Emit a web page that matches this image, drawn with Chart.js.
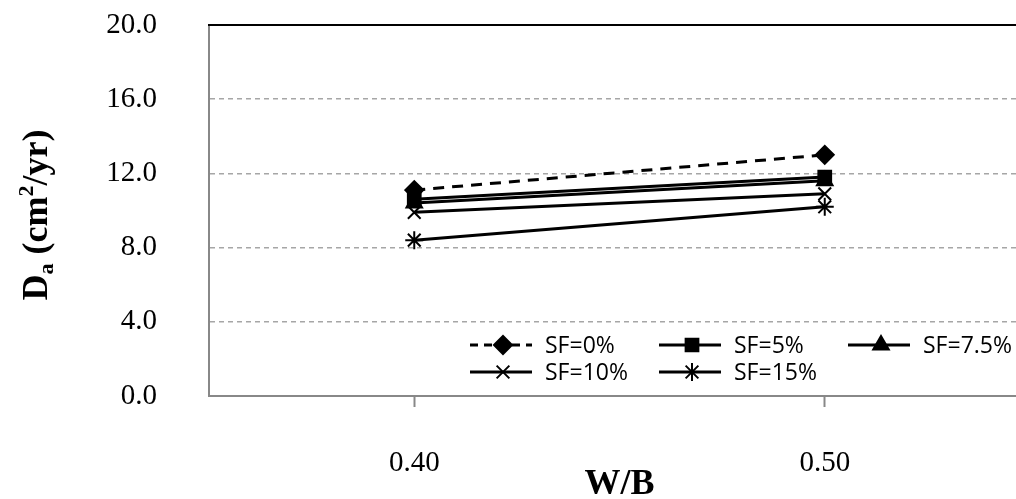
<!DOCTYPE html>
<html>
<head>
<meta charset="utf-8">
<script src="https://cdn.jsdelivr.net/npm/chart.js@4.4.0/dist/chart.umd.min.js"></script>
<style>
  body { margin: 0; overflow: hidden; background: #fff; }
</style>
</head>
<body>
<canvas id="chart" width="1030" height="499"></canvas>
<script>
// 데이터
const categories = ['0.40', '0.50'];
const seriesNames = ['SF=0%', 'SF=5%', 'SF=7.5%', 'SF=10%', 'SF=15%'];
const sf0 = [11.1, 13.0];
const sf5 = [10.6, 11.8];
const sf75 = [10.4, 11.6];
const sf10 = [9.9, 10.9];
const sf15 = [8.4, 10.2];
const yTicks = [0, 4, 8, 12, 16, 20];

const seriesValues = [sf0, sf5, sf75, sf10, sf15];
const markers = ['rectRot', 'rect', 'triangle', 'crossRot', 'star'];

const datasets = seriesNames.map((name, i) => ({
  label: name,
  data: seriesValues[i],
  borderColor: '#000',
  borderWidth: 3,
  borderDash: i === 0 ? [11, 8] : [],
  pointStyle: markers[i],
  pointRadius: 9,
  pointBorderWidth: 2,
  pointBackgroundColor: '#000',
  pointBorderColor: '#000',
  tension: 0
}));

// 위쪽 테두리
const topBorder = {
  id: 'topBorder',
  afterDraw(chart) {
    const { ctx, chartArea } = chart;
    ctx.save();
    ctx.strokeStyle = '#000';
    ctx.lineWidth = 2;
    ctx.beginPath();
    ctx.moveTo(chartArea.left - 1, chartArea.top);
    ctx.lineTo(chartArea.right, chartArea.top);
    ctx.stroke();
    ctx.restore();
  }
};

// y축 제목 (아래첨자/위첨자)
const yTitle = {
  id: 'yTitle',
  afterDraw(chart) {
    const ctx = chart.ctx;
    const parts = [
      { t: 'D', size: 36, dy: 0 },
      { t: 'a', size: 22, dy: 6 },
      { t: ' (cm', size: 36, dy: 0 },
      { t: '2', size: 22, dy: -14 },
      { t: '/yr)', size: 36, dy: 0 }
    ];
    ctx.save();
    let total = 0;
    parts.forEach(p => {
      ctx.font = 'bold ' + p.size + 'px "Liberation Serif"';
      p.w = ctx.measureText(p.t).width;
      total += p.w;
    });
    ctx.translate(47, 215);
    ctx.rotate(-Math.PI / 2);
    ctx.fillStyle = '#000';
    ctx.textBaseline = 'alphabetic';
    let x = -total / 2;
    parts.forEach(p => {
      ctx.font = 'bold ' + p.size + 'px "Liberation Serif"';
      ctx.fillText(p.t, x, p.dy);
      x += p.w;
    });
    ctx.restore();
  }
};

// 범례
const sfLegend = {
  id: 'sfLegend',
  afterDraw(chart) {
    const ctx = chart.ctx;
    const cols = [470, 659, 848];
    const rows = [345, 372];
    chart.data.datasets.forEach((ds, i) => {
      const x = cols[i % 3];
      const y = rows[Math.floor(i / 3)];
      ctx.save();
      ctx.strokeStyle = '#000';
      ctx.lineWidth = 3;
      ctx.setLineDash(i === 0 ? [8, 6] : []);
      ctx.beginPath();
      ctx.moveTo(x, y);
      ctx.lineTo(x + 62, y);
      ctx.stroke();
      ctx.setLineDash([]);
      ctx.fillStyle = '#000';
      ctx.lineWidth = 2;
      Chart.helpers.drawPoint(ctx, { pointStyle: ds.pointStyle, radius: ds.pointRadius, borderWidth: 2 }, x + 33, y);
      ctx.font = '23px "Open Sans"';
      ctx.textBaseline = 'middle';
      ctx.fillText(ds.label, x + 75, y + 1);
      ctx.restore();
    });
  }
};

new Chart(document.getElementById('chart'), {
  type: 'line',
  data: { labels: categories, datasets: datasets },
  options: {
    responsive: false,
    animation: false,
    layout: { autoPadding: false, padding: { top: 25, left: 0, right: 0, bottom: 0 } },
    plugins: { legend: { display: false }, tooltip: { enabled: false } },
    scales: {
      x: {
        offset: true,
        grid: { drawOnChartArea: false, offset: false, tickLength: 11, tickColor: '#888', tickWidth: 2 },
        border: { color: '#888', width: 2 },
        ticks: { color: '#000', font: { family: 'Liberation Serif', size: 29 }, padding: 39 },
        title: {
          display: true, text: 'W/B', color: '#000',
          font: { family: 'Liberation Serif', size: 36, weight: 'bold', lineHeight: 0.8 },
          padding: 0
        },
        afterFit: s => { s.height = 103; }
      },
      y: {
        min: 0,
        max: 20,
        afterBuildTicks: s => { s.ticks = yTicks.map(v => ({ value: v })); },
        grid: {
          color: c => (c.tick && (c.tick.value === 0 || c.tick.value === 20)) ? 'rgba(0,0,0,0)' : '#a6a6a6',
          lineWidth: 1.5,
          drawTicks: false
        },
        border: { color: '#888', width: 2, dash: [5, 4] },
        ticks: {
          color: '#000',
          font: { family: 'Liberation Serif', size: 29 },
          padding: 52,
          callback: v => v.toFixed(1)
        },
        afterFit: s => { s.width = 209; s.paddingTop = 0; s.paddingBottom = 0; }
      }
    }
  },
  plugins: [topBorder, yTitle, sfLegend]
});
</script>
</body>
</html>
